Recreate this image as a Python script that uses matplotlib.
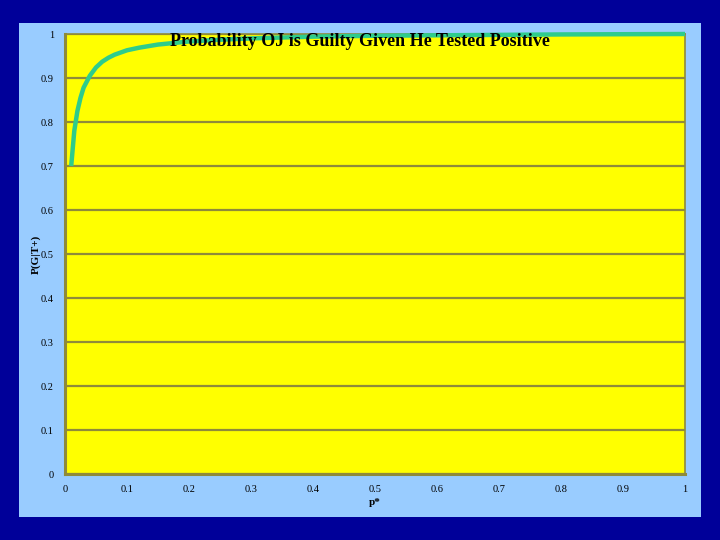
import matplotlib
matplotlib.use("Agg")
import matplotlib.pyplot as plt
from matplotlib.patches import Rectangle

p_star = [0.01, 0.015, 0.02, 0.025, 0.03, 0.04, 0.05, 0.06, 0.07, 0.08, 0.10,
          0.12, 0.15, 0.20, 0.25, 0.30, 0.40, 0.50, 0.60, 0.70, 0.80, 0.90, 1.00]
p_guilty = [0.70, 0.78, 0.825, 0.855, 0.878, 0.905, 0.924, 0.937, 0.946, 0.953, 0.963,
            0.969, 0.976, 0.983, 0.987, 0.990, 0.994, 0.996, 0.997, 0.998, 0.999, 0.9995, 1.0]
x_ticks = [0, 0.1, 0.2, 0.3, 0.4, 0.5, 0.6, 0.7, 0.8, 0.9, 1]
x_tick_labels = ["0", "0.1", "0.2", "0.3", "0.4", "0.5", "0.6", "0.7", "0.8", "0.9", "1"]
y_ticks = [0, 0.1, 0.2, 0.3, 0.4, 0.5, 0.6, 0.7, 0.8, 0.9, 1]
y_tick_labels = ["0", "0.1", "0.2", "0.3", "0.4", "0.5", "0.6", "0.7", "0.8", "0.9", "1"]
title = "Probability OJ is Guilty Given He Tested Positive"

W, H = 720, 540
fig = plt.figure(figsize=(7.2, 5.4), dpi=100)
fig.patch.set_facecolor("#000099")
fig.patches.append(Rectangle((19 / W, 1 - 517 / H), (701 - 19) / W, (517 - 23) / H,
                             transform=fig.transFigure, facecolor="#99CCFF",
                             edgecolor="none", zorder=-5))

ax = fig.add_axes([65 / W, 66 / H, 620 / W, 440 / H])
ax.set_zorder(2)
ax.set_facecolor("#FFFF00")
ax.plot(p_star, p_guilty, color="#2ECC8C", linewidth=3.2, solid_capstyle="butt",
        clip_on=False, zorder=5)
ax.set_xlim(0, 1)
ax.set_ylim(0, 1)
ax.set_xticks(x_ticks)
ax.set_xticklabels(x_tick_labels)
ax.set_yticks(y_ticks)
ax.set_yticklabels(y_tick_labels)
ax.grid(axis="y", color="#8f8a3a", linewidth=1.6)
ax.set_axisbelow(True)
ax.tick_params(length=0, pad=8, labelsize=7.5)
for lab in ax.get_xticklabels() + ax.get_yticklabels():
    lab.set_fontfamily("Liberation Serif")
for side, sp in ax.spines.items():
    sp.set_color("#8f8a3a")
    sp.set_linewidth(2.2 if side in ("left", "bottom") else 1.2)

fig.text(360 / W, 1 - 42 / H, title, ha="center", va="center",
         fontsize=13, fontweight="bold", fontfamily="Liberation Serif", zorder=10)
ax.set_xlabel("p*", fontsize=8, fontweight="bold", fontfamily="Liberation Serif", labelpad=3)
ax.set_ylabel("P(G|T+)", fontsize=8, fontweight="bold", fontfamily="Liberation Serif", labelpad=0)

fig.savefig("out.png", dpi=100, facecolor=fig.get_facecolor())
